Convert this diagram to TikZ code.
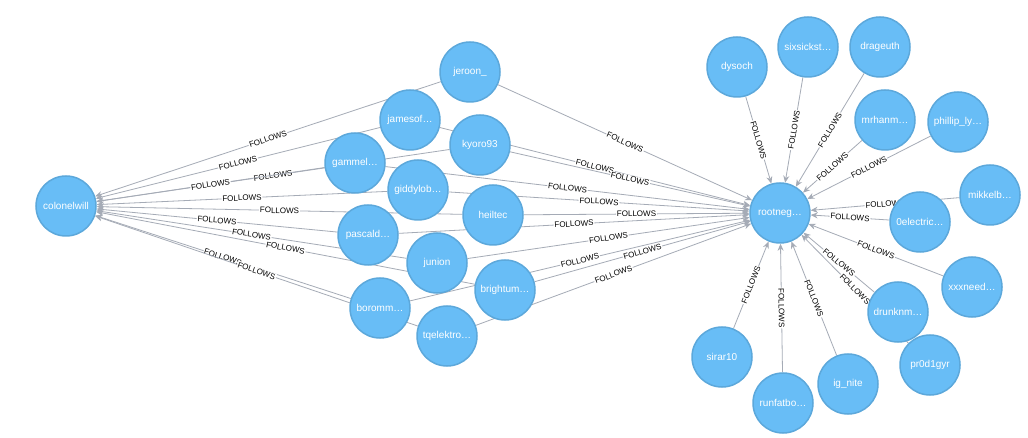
\documentclass[tikz,border=0pt]{standalone}
\usepackage{fontspec}
\setmainfont{Liberation Sans}
\usetikzlibrary{arrows.meta,backgrounds}
\definecolor{nfill}{HTML}{68BDF6}
\definecolor{nline}{HTML}{5CA8DB}
\definecolor{eline}{HTML}{A5ABB6}
\tikzset{
  nd/.style={circle,fill=nfill,draw=nline,line width=1.5pt,minimum size=60pt,inner sep=0pt,text=white,font=\fontsize{10}{12}\selectfont},
  ed/.style={draw=eline,line width=0.8pt,-{Stealth[length=7pt,width=6pt]}},
  lb/.style={midway,sloped,fill=white,inner sep=0.8pt,font=\fontsize{8}{9}\selectfont,text=black}
}
\begin{document}
\begin{tikzpicture}[x=1pt,y=-1pt]
\useasboundingbox (0,0) rectangle (1028,438);
\node[nd] (cw) at (66,206) {colonelwill};
\node[nd] (root) at (780,213) {rootneg\dots};
\foreach \n/\x/\y/\t in {a/470/72/jeroon\_, b/410/120/jamesof\dots, c/480/145/kyoro93, d/355/163/gammel\dots, e/418/190/giddylob\dots, f/493/215/heiltec, g/368/235/pascald\dots, h/437/263/junion, i/505/290/brightum\dots, j/380/308/boromm\dots, k/447/336/tqelektro\dots}
  \node[nd] (\n) at (\x,\y) {\t};
\foreach \n/\x/\y/\t in {r1/737/67/dysoch, r2/808/47/sixsickst\dots, r3/880/47/drageuth, r4/885/120/mrhanm\dots, r5/958/122/phillip\_ly\dots, r6/990/195/mikkelb\dots, r7/920/222/0electric\dots, r8/972/287/xxxneed\dots, r9/898/312/drunknm\dots, r10/930/365/pr0d1gyr, r11/722/357/sirar10, r12/783/403/runfatbo\dots, r13/848/384/ig\_nite}
  \node[nd] (\n) at (\x,\y) {\t};
\begin{scope}[on background layer]
\fill[white] (0,0) rectangle (1028,438);
\foreach \n in {a,b,c,d,e,f,g,h,i,j,k}{
  \draw[ed] (\n) -- node[lb]{FOLLOWS} (cw);
  \draw[ed] (\n) -- node[lb]{FOLLOWS} (root);
}
\foreach \n in {r1,r2,r3,r4,r5,r6,r7,r8,r9,r10,r11,r12,r13}
  \draw[ed] (\n) -- node[lb]{FOLLOWS} (root);
\end{scope}
\end{tikzpicture}
\end{document}
